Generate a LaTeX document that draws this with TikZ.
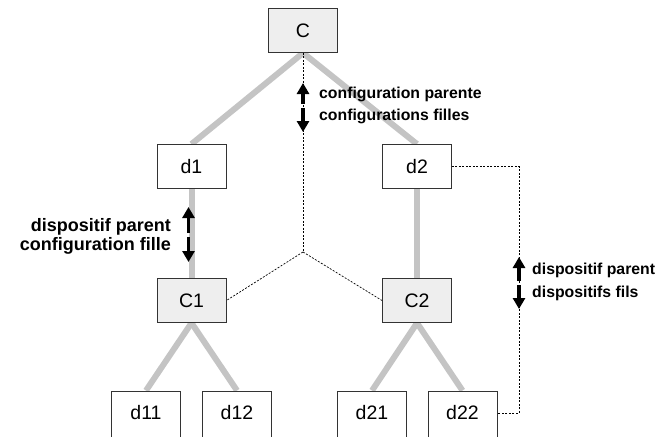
\documentclass[tikz,border=0pt]{standalone}
\usepackage{fontspec}
\setmainfont{Liberation Sans}
\usetikzlibrary{arrows.meta}
\pgfdeclarelayer{background}
\pgfsetlayers{background,main}
\definecolor{linkgray}{HTML}{C4C4C4}
\definecolor{boxfill}{HTML}{EEEEEE}
\definecolor{boxline}{HTML}{333333}
\tikzset{
  box/.style={draw=boxline, line width=0.9pt, fill=white, minimum width=69pt, minimum height=44pt, inner sep=0pt, font=\fontsize{19.5}{19.5}\selectfont},
  cbox/.style={box, fill=boxfill},
  cutbox/.style={box, minimum height=50pt, text height=13.9pt, text depth=6pt},
  link/.style={draw=linkgray, line width=6pt},
  dotline/.style={draw=black, line width=0.7pt, dash pattern=on 2pt off 1.5pt},
  bigarrow/.style={draw=black, line width=3.4pt, -{Triangle[width=12pt,length=11pt]}},
  biglabel/.style={inner sep=0pt, font=\fontsize{18}{18}\selectfont\bfseries},
  smalllabel/.style={inner sep=0pt, font=\fontsize{15.8}{16}\selectfont\bfseries}
}
\begin{document}
\begin{tikzpicture}[x=1pt,y=-1pt]
\useasboundingbox (0,0) rectangle (655,436);
\clip (0,0) rectangle (655,436);
% nodes
\node[cbox] (C) at (303,30.5) {C};
\node[box] (d1) at (191.5,166.5) {d1};
\node[box] (d2) at (417,166.5) {d2};
\node[cbox] (C1) at (191.5,300.5) {C1};
\node[cbox] (C2) at (417,300.5) {C2};
\node[cutbox] (d11) at (146,416) {d11};
\node[cutbox] (d12) at (237,416) {d12};
\node[cutbox] (d21) at (372,416) {d21};
\node[cutbox] (d22) at (462.5,416) {d22};
% coordinates
\coordinate (J) at (303,252);
\coordinate (R1) at (519,166.5);
\coordinate (R2) at (519,413);
\coordinate (R3) at (d22.east |- R2);
% gray links
\begin{pgfonlayer}{background}
\draw[link] (C.south) -- (d1.north);
\draw[link] (C.south) -- (d2.north);
\draw[link] (d1.south) -- (C1.north);
\draw[link] (d2.south) -- (C2.north);
\draw[link] (C1.south) -- (d11.north);
\draw[link] (C1.south) -- (d12.north);
\draw[link] (C2.south) -- (d21.north);
\draw[link] (C2.south) -- (d22.north);
\end{pgfonlayer}
% dotted links
\draw[dotline] (C.south) -- (J);
\draw[dotline] (J) -- (C1.east);
\draw[dotline] (J) -- (C2.west);
\draw[dotline] (d2.east) -- (R1) -- (R2) -- (R3);
% arrows
\coordinate (a1s) at (303,104); \coordinate (a1e) at (303,83);
\coordinate (a2s) at (303,108); \coordinate (a2e) at (303,132);
\draw[bigarrow] (a1s) -- (a1e);
\draw[bigarrow] (a2s) -- (a2e);
\coordinate (b1s) at (188.5,233); \coordinate (b1e) at (188.5,207);
\coordinate (b2s) at (188.5,237); \coordinate (b2e) at (188.5,262);
\draw[bigarrow] (b1s) -- (b1e);
\draw[bigarrow] (b2s) -- (b2e);
\coordinate (c1s) at (519,281); \coordinate (c1e) at (519,257);
\coordinate (c2s) at (519,285); \coordinate (c2e) at (519,309);
\draw[bigarrow] (c1s) -- (c1e);
\draw[bigarrow] (c2s) -- (c2e);
% labels
\node[smalllabel, anchor=base west] (l1) at (319,98) {configuration parente};
\node[smalllabel, anchor=base west] (l2) at (319,120) {configurations filles};
\node[biglabel, anchor=base east] (l3) at (171,231) {dispositif parent};
\node[biglabel, anchor=base east] (l4) at (171,250) {configuration fille};
\node[smalllabel, anchor=base west] (l5) at (532,274) {dispositif parent};
\node[smalllabel, anchor=base west] (l6) at (532,297) {dispositifs fils};
\end{tikzpicture}
\end{document}
